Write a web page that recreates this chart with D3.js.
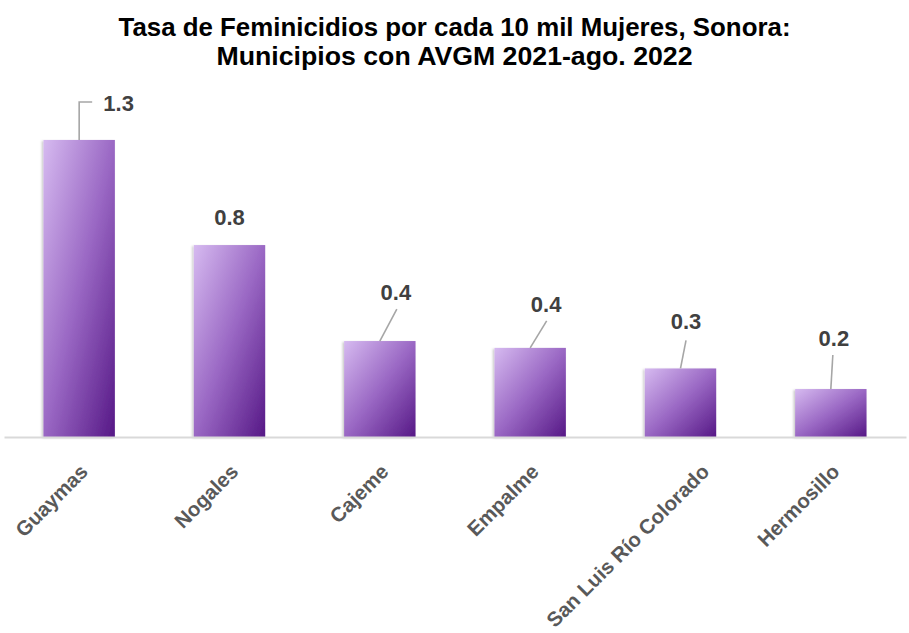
<!DOCTYPE html>
<html>
<head>
<meta charset="utf-8">
<script src="https://cdn.jsdelivr.net/npm/d3@7"></script>
<style>
  body { margin: 0; background: #fff; }
  svg { display: block; font-family: "Liberation Sans", Arial, sans-serif; }
</style>
</head>
<body>
<script>
var municipios = ['Guaymas', 'Nogales', 'Cajeme', 'Empalme', 'San Luis Río Colorado', 'Hermosillo'];
var tasas = [1.30, 0.84, 0.42, 0.39, 0.30, 0.21];
var titulo = ['Tasa de Feminicidios por cada 10 mil Mujeres, Sonora:',
              'Municipios con AVGM 2021-ago. 2022'];

var width = 909, height = 633;
var baseline = 437;

// where each value label sits relative to the top of its bar (label centre, baseline)
var labelPos = {
  'Guaymas':               { dx: 39.5, dy: -29, leader: [[0, 0], [0, -38], [13, -38]] },
  'Nogales':               { dx: 0,    dy: -20, leader: null },
  'Cajeme':                { dx: 16,   dy: -41, leader: [[0, 0], [17, -32]] },
  'Empalme':               { dx: 16,   dy: -36, leader: [[0, 0], [16.5, -27]] },
  'San Luis Río Colorado': { dx: 5.5,  dy: -39, leader: [[0, 0], [5.5, -28]] },
  'Hermosillo':            { dx: 3,    dy: -43, leader: [[0, 0], [2, -34]] }
};
var tickNudge = { 'San Luis Río Colorado': 20 };

var data = municipios.map(function(m, i) { return { name: m, value: tasas[i] }; });

var svg = d3.select('body').append('svg')
    .attr('width', width)
    .attr('height', height);

var defs = svg.append('defs');
var grad = defs.append('linearGradient')
    .attr('id', 'barGrad')
    .attr('x1', 0).attr('y1', 0)
    .attr('x2', 1).attr('y2', 1);
grad.append('stop').attr('offset', '0%').attr('stop-color', '#d6baf0');
grad.append('stop').attr('offset', '50%').attr('stop-color', '#9a68c4');
grad.append('stop').attr('offset', '100%').attr('stop-color', '#561886');

var shadow = defs.append('filter')
    .attr('id', 'shadow')
    .attr('x', '-20%').attr('y', '-10%')
    .attr('width', '140%').attr('height', '120%');
shadow.append('feDropShadow')
    .attr('dx', -1.5).attr('dy', 1)
    .attr('stdDeviation', 1.2)
    .attr('flood-color', '#000')
    .attr('flood-opacity', 0.22);

var x = d3.scaleBand()
    .domain(municipios)
    .range([4, 906])
    .paddingInner(0.525)
    .paddingOuter(0.2625);

var y = d3.scaleLinear()
    .domain([0, 1.4])
    .range([baseline, baseline - 1.4 * 228.5]);

var fmt = d3.format('.1f');

// title
svg.append('g')
    .selectAll('text')
    .data(titulo)
    .enter()
    .append('text')
    .attr('x', width / 2)
    .attr('y', function(d, i) { return 36 + i * 29; })
    .attr('text-anchor', 'middle')
    .attr('font-size', 25)
    .attr('font-weight', 'bold')
    .attr('fill', '#000')
    .attr('textLength', function(d, i) { return i === 0 ? 672 : 476; })
    .attr('lengthAdjust', 'spacingAndGlyphs')
    .text(function(d) { return d; });

// bars
svg.append('g')
    .selectAll('rect')
    .data(data)
    .enter()
    .append('rect')
    .attr('x', function(d) { return x(d.name); })
    .attr('y', function(d) { return y(d.value); })
    .attr('width', x.bandwidth())
    .attr('height', function(d) { return baseline - y(d.value); })
    .attr('fill', 'url(#barGrad)')
    .attr('filter', 'url(#shadow)');

// category axis
var axis = svg.append('g')
    .attr('transform', 'translate(0,' + baseline + ')')
    .call(d3.axisBottom(x).tickSize(0).tickSizeOuter(0));

axis.select('.domain')
    .attr('stroke', '#d9d9d9')
    .attr('stroke-width', 2.2);

axis.selectAll('.tick text')
    .attr('font-family', '"Liberation Sans", Arial, sans-serif')
    .attr('font-size', 20.5)
    .attr('font-weight', 'bold')
    .attr('fill', '#595959')
    .attr('text-anchor', 'end')
    .attr('dy', null)
    .attr('y', null)
    .attr('transform', function(d) {
      return 'translate(' + (10 + (tickNudge[d] || 0)) + ',36) rotate(-45)';
    });

// leader lines
var line = d3.line();
svg.append('g')
    .selectAll('path')
    .data(data.filter(function(d) { return labelPos[d.name].leader; }))
    .enter()
    .append('path')
    .attr('d', function(d) {
      var cx = x(d.name) + x.bandwidth() / 2;
      var top = y(d.value);
      return line(labelPos[d.name].leader.map(function(p) { return [cx + p[0], top + p[1]]; }));
    })
    .attr('fill', 'none')
    .attr('stroke', '#a6a6a6')
    .attr('stroke-width', 1.6);

// value labels
svg.append('g')
    .selectAll('text')
    .data(data)
    .enter()
    .append('text')
    .attr('x', function(d) { return x(d.name) + x.bandwidth() / 2 + labelPos[d.name].dx; })
    .attr('y', function(d) { return y(d.value) + labelPos[d.name].dy; })
    .attr('text-anchor', 'middle')
    .attr('font-size', 22)
    .attr('font-weight', 'bold')
    .attr('fill', '#404040')
    .text(function(d) { return fmt(d.value); });
</script>
</body>
</html>
